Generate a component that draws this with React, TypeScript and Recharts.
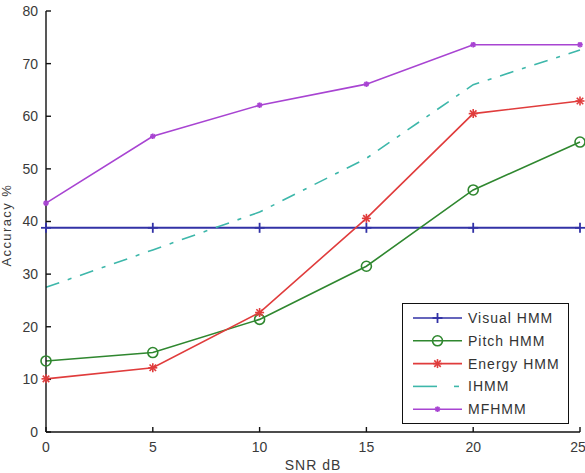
import { CartesianGrid, Legend, Line, LineChart, XAxis, YAxis } from "recharts";

// SNR sweep and accuracy (%) of each recogniser
const snr = [0, 5, 10, 15, 20, 25];
const visualHmm = [38.8, 38.8, 38.8, 38.8, 38.8, 38.8];
const pitchHmm = [13.5, 15.1, 21.4, 31.5, 46, 55.1];
const energyHmm = [10.1, 12.2, 22.7, 40.6, 60.5, 62.9];
const iHmm = [27.5, 34.6, 41.8, 52, 66, 72.6];
const mfHmm = [43.5, 56.2, 62.1, 66.1, 73.6, 73.6];

const xTicks = [0, 5, 10, 15, 20, 25];
const yTicks = [0, 10, 20, 30, 40, 50, 60, 70, 80];

const FONT = "'Liberation Sans', Arial, sans-serif";

type Marker = "plus" | "circle" | "star" | "smallStar" | "none";

interface Series {
  key: string;
  name: string;
  color: string;
  marker: Marker;
  dash?: string;
}

const SERIES: Series[] = [
  { key: "visual", name: "Visual HMM", color: "#3232a6", marker: "plus" },
  { key: "pitch", name: "Pitch HMM", color: "#2f872f", marker: "circle" },
  { key: "energy", name: "Energy  HMM", color: "#e03c3c", marker: "star" },
  { key: "ihmm", name: "IHMM", color: "#3db7aa", marker: "none", dash: "14 9 4 9" },
  { key: "mfhmm", name: "MFHMM", color: "#a844d2", marker: "smallStar" },
];

const rows = snr.map((s, i) => ({
  snr: s,
  visual: visualHmm[i],
  pitch: pitchHmm[i],
  energy: energyHmm[i],
  ihmm: iHmm[i],
  mfhmm: mfHmm[i],
}));

// matlab-style markers: '+', 'o', '*'
function drawMarker(kind: Marker, cx: number, cy: number, color: string, key?: string) {
  if (kind === "plus") {
    return (
      <g key={key}>
        <line x1={cx} y1={cy - 5} x2={cx} y2={cy + 5} stroke={color} strokeWidth={1.8} />
        <line x1={cx - 5} y1={cy} x2={cx + 5} y2={cy} stroke={color} strokeWidth={1.8} />
      </g>
    );
  }
  if (kind === "circle") {
    return <circle key={key} cx={cx} cy={cy} r={5} fill="none" stroke={color} strokeWidth={1.6} />;
  }
  if (kind === "star" || kind === "smallStar") {
    const r = kind === "star" ? 4.5 : 2.8;
    const d = r * 0.72;
    return (
      <g key={key} stroke={color} strokeWidth={1.6}>
        <line x1={cx} y1={cy - r} x2={cx} y2={cy + r} />
        <line x1={cx - r} y1={cy} x2={cx + r} y2={cy} />
        <line x1={cx - d} y1={cy - d} x2={cx + d} y2={cy + d} />
        <line x1={cx - d} y1={cy + d} x2={cx + d} y2={cy - d} />
      </g>
    );
  }
  return <g key={key} />;
}

function dotFor(s: Series) {
  if (s.marker === "none") return false;
  return (props: any) =>
    drawMarker(s.marker, props.cx, props.cy, s.color, `${s.key}-${props.index}`);
}

function LegendBox() {
  return (
    <div style={{ border: "1.3px solid #111", background: "#fff", width: 165, height: 119 }}>
      <svg width={165} height={119}>
        {SERIES.map((s, i) => {
          const y = 14 + i * 22.8;
          return (
            <g key={s.key}>
              {s.dash ? (
                <>
                  <line x1={10} y1={y} x2={34} y2={y} stroke={s.color} strokeWidth={1.6} />
                  <line x1={51} y1={y} x2={56} y2={y} stroke={s.color} strokeWidth={1.6} />
                </>
              ) : (
                <line x1={10} y1={y} x2={59} y2={y} stroke={s.color} strokeWidth={1.6} />
              )}
              {drawMarker(s.marker, 34.5, y, s.color)}
              <text x={65} y={y + 5} fontSize={14} fill="#333" fontFamily={FONT} letterSpacing={1}>
                {s.name}
              </text>
            </g>
          );
        })}
      </svg>
    </div>
  );
}

const tickStyle = { fill: "#3a3a3a", fontSize: 14, fontFamily: FONT };
const axisLine = { stroke: "#111", strokeWidth: 1.4 };
const tickLine = { stroke: "#111", strokeWidth: 1.4 };

export default function App() {
  return (
    <div style={{ position: "absolute", left: 0, top: 0, width: 585, height: 473, background: "#fff", fontFamily: FONT }}>
      <LineChart width={585} height={473} data={rows} margin={{ top: 11, right: 5, bottom: 0, left: 0 }}>
        <CartesianGrid stroke="none" fill="none" />
        <XAxis
          dataKey="snr"
          type="number"
          domain={[0, 25]}
          ticks={xTicks}
          height={41}
          tickSize={-5}
          tickMargin={15}
          tick={tickStyle}
          axisLine={axisLine}
          tickLine={tickLine}
          label={{
            value: "SNR dB",
            position: "insideBottom",
            offset: 3,
            fill: "#3a3a3a",
            fontSize: 14,
            fontFamily: FONT,
            letterSpacing: 1,
          }}
        />
        <XAxis
          xAxisId="top"
          orientation="top"
          dataKey="snr"
          type="number"
          domain={[0, 25]}
          ticks={xTicks}
          height={0}
          tickSize={-5}
          tick={() => <g />}
          axisLine={axisLine}
          tickLine={tickLine}
        />
        <YAxis
          type="number"
          domain={[0, 80]}
          ticks={yTicks}
          width={46}
          tickSize={-5}
          tickMargin={13}
          tick={tickStyle}
          axisLine={axisLine}
          tickLine={tickLine}
          label={{
            value: "Accuracy %",
            angle: -90,
            position: "insideLeft",
            offset: 6,
            dy: 45,
            fill: "#3a3a3a",
            fontSize: 13,
            fontFamily: FONT,
            letterSpacing: 1.4,
          }}
        />
        <YAxis
          yAxisId="right"
          orientation="right"
          type="number"
          domain={[0, 80]}
          ticks={yTicks}
          width={0}
          tickSize={-5}
          tick={() => <g />}
          axisLine={axisLine}
          tickLine={tickLine}
        />
        {SERIES.map((s) => (
          <Line
            key={s.key}
            dataKey={s.key}
            name={s.name}
            type="linear"
            stroke={s.color}
            strokeWidth={s.key === "visual" ? 2 : 1.6}
            strokeDasharray={s.dash}
            dot={dotFor(s)}
            activeDot={false}
            isAnimationActive={false}
          />
        ))}
        <Legend
          layout="vertical"
          align="center"
          verticalAlign="middle"
          wrapperStyle={{ left: 402, top: 303, width: 167, height: 121 }}
          content={() => <LegendBox />}
        />
      </LineChart>
    </div>
  );
}
